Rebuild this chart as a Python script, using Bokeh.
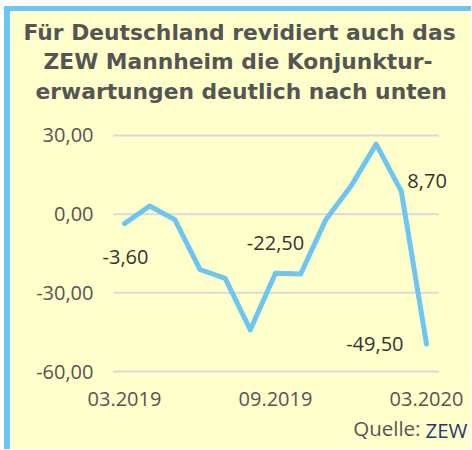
from bokeh.plotting import figure
from bokeh.models import Label, FixedTicker, Range1d, Title
from bokeh.embed import file_html
from bokeh.resources import INLINE

# ---- data ----
months = ["03.2019", "04.2019", "05.2019", "06.2019", "07.2019", "08.2019", "09.2019",
          "10.2019", "11.2019", "12.2019", "01.2020", "02.2020", "03.2020"]
values = [-3.6, 3.1, -2.1, -21.1, -24.5, -44.1, -22.5, -22.8, -2.1, 10.7, 26.7, 8.7, -49.5]
y_ticks = [-60, -30, 0, 30]
x_tick_months = ["03.2019", "09.2019", "03.2020"]
title_lines = ["Für Deutschland revidiert auch das",
               "ZEW Mannheim die Konjunktur-",
               "erwartungen deutlich nach unten"]
labeled_months = ["03.2019", "09.2019", "02.2020", "03.2020"]
source_prefix = "Quelle:"
source_name = "ZEW"

# ---- style ----
BG = "#FFFFCC"
BLUE = "#6CC6F0"
FONT = "Open Sans"
TFONT = "DejaVu Sans"
W, H = 467, 443
XR = (-1.073, 13.788)
YR = (-63.43, 41.44)
FX0, FX1, FY0, FY1 = 87, 461, 94, 369

def de_num(v):
    return f"{v:.2f}".replace(".", ",")

p = figure(width=W, height=H, output_backend="svg", toolbar_location=None,
           x_range=Range1d(*XR), y_range=Range1d(*YR),
           min_border_left=FX0, min_border_right=W - FX1,
           min_border_top=FY0, min_border_bottom=H - FY1,
           background_fill_color=BG, border_fill_color=BG, outline_line_color=None,
           styles={"border-left": f"6px solid {BLUE}", "border-top": f"5px solid {BLUE}",
                   "margin-left": "4px", "margin-top": "6px"})

xs = list(range(len(months)))
# horizontal grid lines at the y ticks, spanning the data area
p.segment(x0=-0.44, x1=12.48, y0=y_ticks, y1=y_ticks, line_color="#D9D9D9", line_width=2)
p.line(xs, values, line_width=5, line_color=BLUE, line_join="round", line_cap="round")

# axes
p.yaxis.ticker = FixedTicker(ticks=y_ticks)
p.yaxis.major_label_overrides = {t: de_num(t) for t in y_ticks}
p.xaxis.ticker = FixedTicker(ticks=[months.index(m) for m in x_tick_months])
p.xaxis.major_label_overrides = {months.index(m): m for m in x_tick_months}
for ax in (p.xaxis[0], p.yaxis[0]):
    ax.axis_line_color = None
    ax.major_tick_line_color = None
    ax.minor_tick_line_color = None
    ax.major_tick_out = 0
    ax.major_tick_in = 0
    ax.major_label_text_font = FONT
    ax.major_label_text_font_size = "20px"
    ax.major_label_text_color = "#555555"
p.yaxis.major_label_standoff = 4
p.xaxis.major_label_standoff = 11
p.grid.visible = False

# data labels
offsets = {"03.2019": (1, -33, "center"), "09.2019": (0, 30, "center"),
           "02.2020": (6, 10, "left"), "03.2020": (-23, 0, "right")}
for m in labeled_months:
    i = months.index(m)
    dx, dy, al = offsets[m]
    p.add_layout(Label(x=i, y=values[i], x_offset=dx, y_offset=dy, text=de_num(values[i]),
                       text_align=al, text_baseline="middle", text_font=FONT,
                       text_font_size="20px", text_color="#333333"))

# title (three lines, innermost added first)
title_offsets = [-74, -54, -62]
title_standoffs = [2, 3, 3]
for line, off, so in reversed(list(zip(title_lines, title_offsets, title_standoffs))):
    p.add_layout(Title(text=line, align="left", offset=off, standoff=so,
                       text_font=TFONT, text_font_size="21.8px", text_font_style="bold",
                       text_color="#555555"), "above")

# source line (second title pulled back up into the same row)
p.add_layout(Title(text=source_name, align="right", offset=4, standoff=14, vertical_align="top",
                   text_font=FONT, text_font_size="20.5px", text_font_style="normal",
                   text_color="#1F3A78"), "below")
p.add_layout(Title(text=source_prefix, align="right", offset=51, standoff=-78, vertical_align="top",
                   text_font=FONT, text_font_size="20.5px", text_font_style="normal",
                   text_color="#555555"), "below")

open("out.html", "w").write(file_html(p, INLINE))
